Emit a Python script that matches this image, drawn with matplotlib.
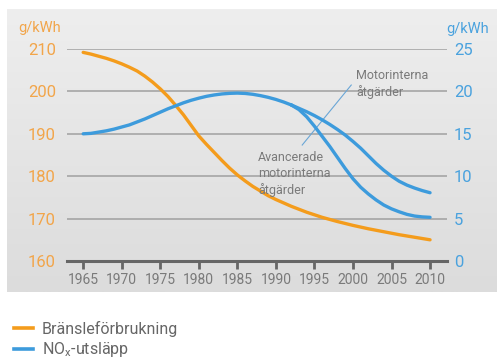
import numpy as np
import matplotlib
matplotlib.use("Agg")
import matplotlib.pyplot as plt
from matplotlib.lines import Line2D
from matplotlib.colors import LinearSegmentedColormap

# ---------------- data ----------------
fuel_years = [1965, 1966, 1967, 1968, 1969, 1970, 1971, 1972, 1973, 1974, 1975,
              1976, 1977, 1978, 1979, 1980, 1981, 1982, 1983, 1984, 1985,
              1986, 1987, 1988, 1989, 1990, 1992, 1994, 1996, 1998, 2000,
              2002, 2004, 2006, 2008, 2010]
fuel_values = [209.2, 208.8, 208.3, 207.8, 207.2, 206.5, 205.7, 204.8, 203.6, 202.2, 200.6,
               198.8, 196.7, 194.5, 192.0, 189.5, 187.5, 185.6, 183.7, 181.9, 180.3,
               178.9, 177.6, 176.5, 175.4, 174.5, 172.9, 171.5, 170.3, 169.3, 168.4,
               167.6, 166.9, 166.2, 165.6, 165.0]

nox_years = [1965, 1966, 1967, 1968, 1969, 1970, 1971, 1972, 1973, 1974, 1975,
             1976, 1977, 1978, 1979, 1980, 1981, 1982, 1983, 1984, 1985,
             1986, 1987, 1988, 1989, 1990, 1991, 1992]
nox_values = [15.0, 15.05, 15.2, 15.35, 15.55, 15.8, 16.05, 16.4, 16.75, 17.15, 17.55,
              17.95, 18.3, 18.65, 18.95, 19.2, 19.42, 19.58, 19.7, 19.77, 19.8,
              19.76, 19.66, 19.5, 19.3, 19.05, 18.75, 18.4]

nox_upper_years = [1992, 1993, 1994, 1995, 1996, 1997, 1998, 1999, 2000, 2001,
                   2002, 2003, 2004, 2005, 2006, 2007, 2008, 2009, 2010]
nox_upper_values = [18.4, 18.0, 17.6, 17.15, 16.65, 16.1, 15.5, 14.85, 14.1, 13.3,
                    12.4, 11.5, 10.7, 10.0, 9.4, 8.95, 8.6, 8.3, 8.05]

nox_lower_years = [1992, 1993, 1994, 1995, 1996, 1997, 1998, 1999, 2000, 2001,
                   2002, 2003, 2004, 2005, 2006, 2007, 2008, 2009, 2010]
nox_lower_values = [18.4, 17.85, 17.0, 15.9, 14.7, 13.5, 12.2, 10.9, 9.7, 8.7,
                    7.9, 7.2, 6.6, 6.15, 5.8, 5.5, 5.3, 5.2, 5.15]

year_ticks = [1965, 1970, 1975, 1980, 1985, 1990, 1995, 2000, 2005, 2010]
left_ticks = [160, 170, 180, 190, 200, 210]
right_ticks = [0, 5, 10, 15, 20, 25]

unit_label = "g/kWh"
label_fuel = "Bränsleförbrukning"
label_nox = r"NO$_\mathregular{x}$-utsläpp"
note_upper = "Motorinterna\nåtgärder"
note_lower = "Avancerade\nmotorinterna\nåtgärder"

# ---------------- style ----------------
plt.rcParams["font.family"] = ["Roboto", "DejaVu Sans"]

ORANGE = "#f49c1c"
BLUE = "#3d9bdc"
ORANGE_TXT = "#f2a54a"
BLUE_TXT = "#4aa2de"
GRID = "#a0a0a0"
AXIS = "#666666"
GRAYTXT = "#7a7a7a"

W, H = 497, 360
fig = plt.figure(figsize=(W / 100, H / 100), dpi=100)
fig.patch.set_facecolor("white")

# background panel with gradient
bg = fig.add_axes([7 / W, 1 - 292 / H, 490 / W, 283 / H])
grad = np.linspace(0, 1, 256).reshape(-1, 1)
cmap = LinearSegmentedColormap.from_list("bg", ["#eeeeee", "#dcdcdc"])
bg.imshow(grad, aspect="auto", cmap=cmap, extent=[0, 1, 1, 0])
bg.set_axis_off()
bg.set_zorder(0)

ax = fig.add_axes([67 / W, 1 - 261 / H, 380 / W, 212 / H])
ax.set_zorder(1)
ax.patch.set_alpha(0)
ax.set_xlim(1962.9, 2012.2)
ax.set_ylim(160, 210)

ax2 = ax.twinx()
ax2.set_zorder(2)
ax2.patch.set_alpha(0)
ax2.set_ylim(0, 25)

# grid
ax.set_yticks(left_ticks)
ax.grid(axis="y", color=GRID, lw=1.1)
ax.set_axisbelow(True)
for s in ["top", "right", "left"]:
    ax.spines[s].set_visible(False)
    ax2.spines[s].set_visible(False)
ax2.spines["bottom"].set_visible(False)
ax.spines["bottom"].set_color(AXIS)
ax.spines["bottom"].set_linewidth(2.2)
ax.spines["bottom"].set_zorder(5)

ax.set_xticks(year_ticks)
ax.tick_params(axis="x", length=6, width=2, color=AXIS, pad=3,
               labelsize=10, labelcolor=GRAYTXT)
ax.tick_params(axis="y", length=0, pad=8, labelsize=12, labelcolor=ORANGE_TXT)
ax2.set_yticks(right_ticks)
ax2.tick_params(axis="y", length=0, pad=5, labelsize=12, labelcolor=BLUE_TXT)

# lines
lw = 2.4
kw = dict(lw=lw, solid_capstyle="round", solid_joinstyle="round",
          clip_on=False, zorder=3)
ax.plot(fuel_years, fuel_values, color=ORANGE, **kw)
ax2.plot(nox_years, nox_values, color=BLUE, **kw)
ax2.plot(nox_upper_years, nox_upper_values, color=BLUE, **kw)
ax2.plot(nox_lower_years, nox_lower_values, color=BLUE, **kw)

# annotations (axes fraction coords)
ax.plot([0.748, 0.619], [0.830, 0.547], transform=ax.transAxes, color="#6aa6d6",
        lw=0.8, zorder=4)
ax.text(0.761, 0.835, note_upper, transform=ax.transAxes, fontsize=9,
        color=GRAYTXT, va="center", ha="left", linespacing=1.35, zorder=4)
ax.text(0.503, 0.41, note_lower, transform=ax.transAxes, fontsize=9,
        color=GRAYTXT, va="center", ha="left", linespacing=1.3, zorder=4)

# unit labels
fig.text(40 / W, 1 - 28 / H, unit_label, color=ORANGE_TXT, fontsize=10.5,
         ha="center", va="center")
fig.text(468 / W, 1 - 29 / H, unit_label, color=BLUE_TXT, fontsize=10.5,
         ha="center", va="center")

# legend
handles = [Line2D([], [], color=ORANGE, lw=2.6), Line2D([], [], color=BLUE, lw=2.6)]
fig.legend(handles, [label_fuel, label_nox], loc="upper left",
           bbox_to_anchor=(14 / W, 1 - 321 / H), frameon=False,
           fontsize=11.5, labelcolor="#666666", handlelength=1.2,
           handletextpad=0.55, labelspacing=0.2, borderpad=0, borderaxespad=0)

fig.savefig("out.png", dpi=100)
